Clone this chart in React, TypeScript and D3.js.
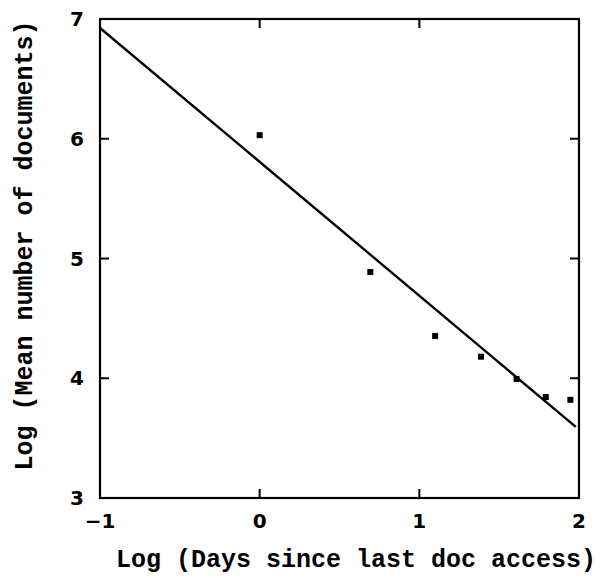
import React from "react";
import * as d3 from "d3";

// Observed means, log scale on both axes
const logDays = [0, 0.693, 1.099, 1.386, 1.609, 1.792, 1.946];
const logDocs = [6.03, 4.887, 4.353, 4.18, 3.994, 3.843, 3.82];

// Least-squares fit line: y = intercept + slope * x
const fitIntercept = 5.807;
const fitSlope = -1.118;
const fitRange = [-1, 1.98];

const xTicks = [-1, 0, 1, 2];
const yTicks = [3, 4, 5, 6, 7];

const W = 603;
const H = 578;
const left = 100;
const right = 579;
const top = 19;
const bottom = 498;

export default function App() {
  const x = d3.scaleLinear().domain([-1, 2]).range([left, right]);
  const y = d3.scaleLinear().domain([3, 7]).range([bottom, top]);

  const fitLine = d3
    .line<number>()
    .x((d) => x(d))
    .y((d) => y(fitIntercept + fitSlope * d));

  const tickLen = 9;
  const tickFont = "'DejaVu Sans', 'Liberation Sans', sans-serif";
  const titleFont = "'Liberation Mono', 'Courier New', monospace";
  const fmt = (v: number) => (v < 0 ? "\u2212" + Math.abs(v) : String(v));

  return (
    <svg
      width={W}
      height={H}
      style={{ position: "absolute", left: 0, top: 0, background: "#fff" }}
    >
      {/* ticks on all four sides */}
      {yTicks
        .filter((t) => t > 3 && t < 7)
        .map((t) => (
          <g key={"y" + t} stroke="#000" strokeWidth={2}>
            <line x1={left} x2={left + tickLen} y1={y(t)} y2={y(t)} />
            <line x1={right} x2={right - tickLen} y1={y(t)} y2={y(t)} />
          </g>
        ))}
      {xTicks
        .filter((t) => t > -1 && t < 2)
        .map((t) => (
          <g key={"x" + t} stroke="#000" strokeWidth={2}>
            <line x1={x(t)} x2={x(t)} y1={bottom} y2={bottom - tickLen} />
            <line x1={x(t)} x2={x(t)} y1={top} y2={top + tickLen} />
          </g>
        ))}

      <rect
        x={left}
        y={top}
        width={right - left}
        height={bottom - top}
        fill="none"
        stroke="#000"
        strokeWidth={2.2}
      />

      {/* tick labels */}
      {yTicks.map((t) => (
        <text
          key={"yl" + t}
          x={84}
          y={y(t)}
          dy="0.36em"
          textAnchor="end"
          fontFamily={tickFont}
          fontWeight="bold"
          fontSize={20}
        >
          {t}
        </text>
      ))}
      {xTicks.map((t) => (
        <text
          key={"xl" + t}
          x={x(t)}
          y={528}
          textAnchor="middle"
          fontFamily={tickFont}
          fontWeight="bold"
          fontSize={20}
        >
          {fmt(t)}
        </text>
      ))}

      {/* fitted line */}
      <path
        d={fitLine(fitRange) || ""}
        fill="none"
        stroke="#000"
        strokeWidth={2.4}
      />

      {/* data points */}
      {logDays.map((d, i) => (
        <rect
          key={"p" + i}
          x={x(d) - 3}
          y={y(logDocs[i]) - 3}
          width={6}
          height={6}
          fill="#000"
        />
      ))}

      {/* axis titles */}
      <text
        x={356}
        y={567}
        textAnchor="middle"
        fontFamily={titleFont}
        fontWeight="bold"
        fontSize={25}
      >
        Log (Days since last doc access)
      </text>
      <text
        transform={`translate(32,245.5) rotate(-90)`}
        textAnchor="middle"
        fontFamily={titleFont}
        fontWeight="bold"
        fontSize={25}
      >
        Log (Mean number of documents)
      </text>
    </svg>
  );
}
